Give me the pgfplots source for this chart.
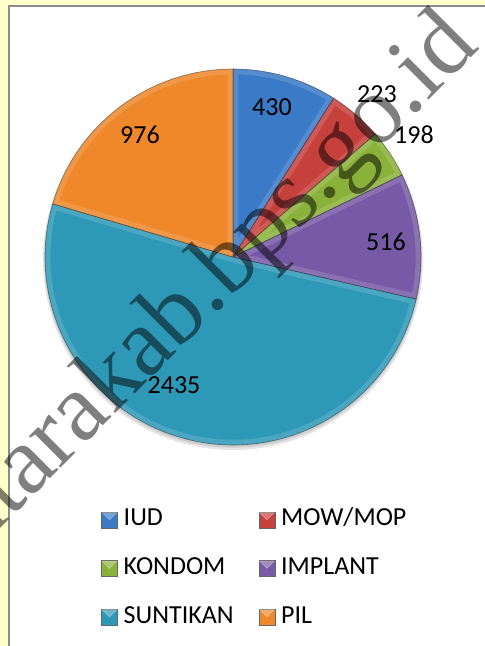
\documentclass[border=0pt]{standalone}
\usepackage{pgfplots}
\pgfplotsset{compat=1.18}
\usepackage{pgfplotstable}
\usepackage{fontspec}
\setmainfont{Carlito}
\newfontfamily\wmfont{Liberation Serif}

\definecolor{bgyellow}{RGB}{255,255,204}
\definecolor{bordergray}{RGB}{140,140,140}
\definecolor{c0}{RGB}{58,122,198}   % IUD
\definecolor{c1}{RGB}{198,64,60}    % MOW/MOP
\definecolor{c2}{RGB}{138,178,58}   % KONDOM
\definecolor{c3}{RGB}{118,90,166}   % IMPLANT
\definecolor{c4}{RGB}{46,153,183}   % SUNTIKAN
\definecolor{c5}{RGB}{238,136,42}   % PIL

\pgfplotstableread{
name value
IUD 430
MOW/MOP 223
KONDOM 198
IMPLANT 516
SUNTIKAN 2435
PIL 976
}\pietable

\begin{document}
\begin{tikzpicture}[x=0.75pt,y=0.75pt]
\useasboundingbox (0,0) rectangle (485,646);
\fill[bgyellow] (0,0) rectangle (485,646);
\filldraw[fill=white, draw=bordergray, line width=1.5pt] (9,-10) rectangle (500,640);

% angles of the slices, clockwise from the top
\xdef\total{0}
\foreach \i in {0,...,5}{
  \pgfplotstablegetelem{\i}{value}\of\pietable
  \pgfmathsetmacro{\t}{\total+\pgfplotsretval}
  \xdef\total{\t}
}
\xdef\curangle{90}
\foreach \i in {0,...,5}{
  \pgfplotstablegetelem{\i}{value}\of\pietable
  \pgfmathsetmacro{\e}{\curangle-360*(\pgfplotsretval/\total)}
  \expandafter\xdef\csname sa\i\endcsname{\curangle}
  \expandafter\xdef\csname ea\i\endcsname{\e}
  \xdef\curangle{\e}
}

\begin{axis}[
  at={(0,0)}, anchor=south west,
  x=0.75pt, y=0.75pt,
  xmin=0, xmax=485, ymin=0, ymax=646,
  hide axis, clip=false,
  legend columns=2,
  legend cell align=left,
  legend image code/.code={
    \filldraw[#1, draw=black!60, line width=0.3pt] (0pt,-6pt) rectangle (12pt,6pt);
    \fill[white, opacity=0.3] (0.5pt,5.5pt) -- (11.5pt,5.5pt) -- (6pt,0pt) -- cycle;
    \path (16.5pt,0pt);
  },
  legend style={
    at={(101/485,139/646)}, anchor=north west,
    draw=none, fill=none, inner sep=0pt, row sep=17.4pt,
    font=\fontsize{19.5}{22}\selectfont,
    nodes={inner sep=0pt, text height=14pt, text depth=5pt},
    /tikz/every even column/.append style={column sep=18.75pt},
  },
]
% soft shadow under the pie
\fill[black, opacity=0.10] (axis cs:233,386) circle[radius=142.5pt];
\fill[black, opacity=0.10] (axis cs:233,387) circle[radius=141.5pt];
\pgfplotsinvokeforeach{0,...,5}{
  \fill[c#1]
    (axis cs:233,389) -- ++(\csname sa#1\endcsname:141pt)
    arc[start angle=\csname sa#1\endcsname, end angle=\csname ea#1\endcsname, radius=141pt] -- cycle;
  \begin{scope}
  \clip (axis cs:233,389) -- ++(\csname sa#1\endcsname:141pt)
    arc[start angle=\csname sa#1\endcsname, end angle=\csname ea#1\endcsname, radius=141pt] -- cycle;
  \draw[white, opacity=0.14, line width=8pt]
    (axis cs:233,389) -- ++(\csname sa#1\endcsname:141pt)
    arc[start angle=\csname sa#1\endcsname, end angle=\csname ea#1\endcsname, radius=141pt] -- cycle;
  \end{scope}
  \draw[black, opacity=0.4, line width=0.5pt]
    (axis cs:233,389) -- ++(\csname sa#1\endcsname:141pt)
    arc[start angle=\csname sa#1\endcsname, end angle=\csname ea#1\endcsname, radius=141pt] -- cycle;
}
\begin{scope}[font=\fontsize{19.5}{22}\selectfont]
\node at (axis cs:272,539) {430};
\node at (axis cs:377,552) {223};
\node at (axis cs:414,511) {198};
\node at (axis cs:386,404) {516};
\node at (axis cs:174,261) {2435};
\node at (axis cs:140,511) {976};
\end{scope}
\addlegendimage{fill=c0}\addlegendentry{IUD}
\addlegendimage{fill=c1}\addlegendentry{MOW/MOP}
\addlegendimage{fill=c2}\addlegendentry{KONDOM}
\addlegendimage{fill=c3}\addlegendentry{IMPLANT}
\addlegendimage{fill=c4}\addlegendentry{SUNTIKAN}
\addlegendimage{fill=c5}\addlegendentry{PIL}
\end{axis}

% watermark
\begin{scope}
\clip (0,0) rectangle (485,646);
\node[anchor=base east, rotate=45, inner sep=0pt, text=black, text opacity=0.5,
  font=\wmfont\fontsize{72.75}{80}\selectfont] at (481,598) {utarakab.bps.go.id};
\end{scope}
\end{tikzpicture}
\end{document}
